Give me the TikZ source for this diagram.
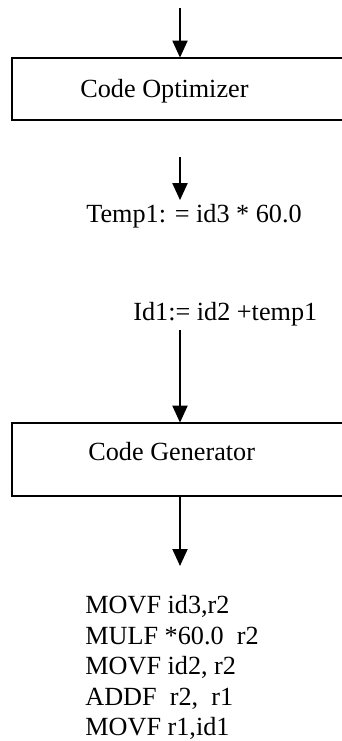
\documentclass[tikz,border=0pt]{standalone}
\usepackage{fontspec}
\setmainfont{Liberation Serif}
\usetikzlibrary{arrows.meta}

\tikzset{
    stage/.style={minimum width=167pt,inner sep=0pt},
    rim/.style={line width=1pt},
    lbl/.style={font=\fontsize{13.1}{15.25}\selectfont,inner sep=2pt,anchor=base west},
    flow/.style={line width=1pt,-{Triangle[width=7.5pt,length=8.5pt]}}
}

\begin{document}
\begin{tikzpicture}[x=.5pt,y=-.5pt]
        \useasboundingbox (0,0) rectangle (342,741);
        \coordinate (in) at (180,8);
        \coordinate (mid) at (180,157);
        \coordinate (out) at (180,566);
        % boxes run off the right edge of the page
        \node[stage,minimum height=31pt] (opt) at (179,89) {};
        \node[lbl] (optname) at (76,97) {Code Optimizer};
        \node[lbl] (temp) at (82,222.7) {Temp1: = id3 * 60.0};
        \node[lbl] (id1) at (129,320) {Id1:= id2 +temp1};
        \node[stage,minimum height=36.5pt] (gen) at (179,459.5) {};
        \node[lbl] (genname) at (84,460.7) {Code Generator};
        \node[lbl,align=left,anchor=north west] (asm) at (81,591)
            {MOVF id3,r2\\MULF *60.0\ \ r2\\MOVF id2, r2\\ADDF\ \ r2,\ \ r1\\MOVF r1,id1};
        \draw[rim] (opt.north east) -- (opt.north west) -- (opt.south west) -- (opt.south east);
        \draw[rim] (gen.north east) -- (gen.north west) -- (gen.south west) -- (gen.south east);
        %
        \draw[flow] (in) -- (in |- opt.north);
        \draw[flow] (mid) -- (mid |- temp.north);
        \draw[flow] (id1.south -| in) -- (in |- gen.north);
        \draw[flow] (in |- gen.south) -- (out);
\end{tikzpicture}
\end{document}
